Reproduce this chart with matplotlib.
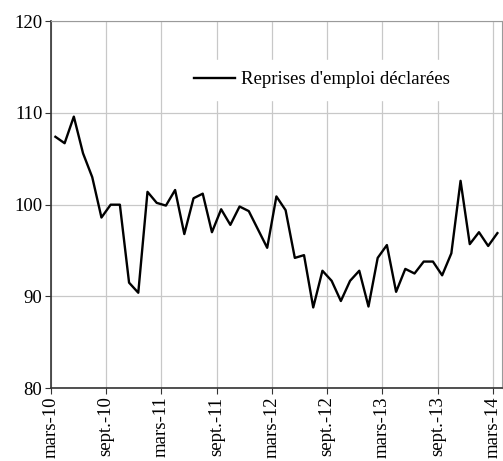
import matplotlib.pyplot as plt
import numpy as np

plt.rcParams['font.family'] = ['Liberation Serif', 'DejaVu Serif']

months = ['mars-10', 'sept.-10', 'mars-11', 'sept.-11', 'mars-12',
          'sept.-12', 'mars-13', 'sept.-13', 'mars-14']
reprises = [107.4, 106.7, 109.6, 105.6, 103.0, 98.6, 100.0, 100.0, 91.5, 90.4,
            101.4, 100.2, 99.9, 101.6, 96.8, 100.7, 101.2, 97.0, 99.5, 97.8,
            99.8, 99.3, 97.3, 95.3, 100.9, 99.4, 94.2, 94.5, 88.8, 92.8,
            91.7, 89.5, 91.7, 92.8, 88.9, 94.2, 95.6, 90.5, 93.0, 92.5,
            93.8, 93.8, 92.3, 94.7, 102.6, 95.7, 97.0, 95.5, 96.9]

fig = plt.figure(figsize=(5.03, 4.61), dpi=100)
ax = fig.add_axes([0.101, 0.158, 0.897, 0.796])

x = np.arange(len(reprises))
ax.plot(x, reprises, color='black', lw=1.7, label="Reprises d'emploi déclarées")

ax.set_xlim(-0.5, len(reprises) - 0.5)
ax.set_ylim(80, 120)
ax.set_yticks([80, 90, 100, 110, 120])
ax.set_xticks(np.arange(0, len(reprises), 6) - 0.5)
ax.set_xticklabels(months, rotation=90, va='top', ha='center')

ax.grid(True, color='#c8c8c8', lw=0.9)
ax.set_axisbelow(True)
for s in ['top', 'right']:
    ax.spines[s].set_color('#9a9a9a')
for s in ['left', 'bottom']:
    ax.spines[s].set_color('#333333')
    ax.spines[s].set_linewidth(1.2)
ax.tick_params(axis='both', labelsize=13.5, length=4, color='#333333', pad=2)

leg = ax.legend(loc='center', bbox_to_anchor=(0.6, 0.84), fontsize=13.5,
                frameon=True, fancybox=False, edgecolor='white',
                facecolor='white', framealpha=1, handlelength=2.2,
                handletextpad=0.3, borderpad=0.6)

fig.savefig('out.png', dpi=100)
